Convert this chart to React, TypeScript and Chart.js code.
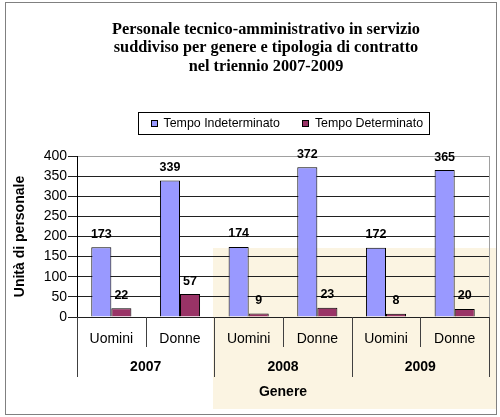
import { useEffect, useRef } from 'react';
import { Chart, registerables } from 'chart.js';

Chart.register(...registerables);

const titleLines = [
  'Personale tecnico-amministrativo in servizio',
  'suddiviso per genere e tipologia di contratto',
  'nel triennio 2007-2009',
];
const genderLabels = ['Uomini', 'Donne', 'Uomini', 'Donne', 'Uomini', 'Donne'];
const yearLabels = ['2007', '2008', '2009'];
const seriesNames = ['Tempo Indeterminato', 'Tempo Determinato'];
const seriesColors = ['#9999FF', '#993366'];
const indeterminato = [173, 339, 174, 372, 172, 365];
const determinato = [22, 57, 9, 23, 8, 20];
const yMin = 0;
const yMax = 400;
const yStep = 50;
const xAxisTitle = 'Genere';
const yAxisTitle = 'Unità di personale';

const SANS = '"Liberation Sans", Arial, sans-serif';
const SERIF = '"Liberation Serif", "Times New Roman", serif';

export default function App() {
  const ref = useRef<HTMLCanvasElement>(null);

  useEffect(() => {
    document.body.style.margin = '0';
    const canvas = ref.current;
    if (!canvas) return;

    const decor = {
      id: 'decor',
      beforeDraw(chart: any) {
        const ctx = chart.ctx;
        ctx.save();
        ctx.fillStyle = '#ffffff';
        ctx.fillRect(0, 0, chart.width, chart.height);
        ctx.fillStyle = '#FBF4E2';
        ctx.fillRect(213, 248, 284, 161);
        ctx.restore();
      },
      afterDraw(chart: any) {
        const ctx = chart.ctx;
        const area = chart.chartArea;
        const xs = chart.scales.x;
        ctx.save();

        // Title
        ctx.fillStyle = '#000';
        ctx.font = `bold 16.3px ${SERIF}`;
        ctx.textAlign = 'center';
        ctx.textBaseline = 'alphabetic';
        const baselines = [33.5, 52, 70.5];
        titleLines.forEach((t, i) => ctx.fillText(t, 266, baselines[i]));

        // Legend
        ctx.font = `12.4px ${SANS}`;
        const widths = seriesNames.map((n) => 7 + 6 + ctx.measureText(n).width);
        const gap = 22;
        const padL = 12;
        const padR = 6;
        const boxW = padL + widths.reduce((a, b) => a + b, 0) + gap + padR;
        const boxL = Math.round(283 - boxW / 2) + 0.5;
        const boxT = 112.5;
        const boxH = 22;
        ctx.strokeStyle = '#000';
        ctx.lineWidth = 1;
        ctx.strokeRect(boxL, boxT, Math.round(boxW), boxH);
        let cx = boxL + padL;
        const cy = boxT + boxH / 2;
        ctx.textAlign = 'left';
        ctx.textBaseline = 'middle';
        seriesNames.forEach((n, i) => {
          ctx.fillStyle = seriesColors[i];
          ctx.fillRect(Math.round(cx), Math.round(cy - 3.5), 7, 7);
          ctx.strokeStyle = '#000';
          ctx.strokeRect(Math.round(cx) + 0.5, Math.round(cy - 3.5) + 0.5, 6, 6);
          ctx.fillStyle = '#000';
          ctx.fillText(n, cx + 13, cy + 0.5);
          cx += widths[i] + gap;
        });

        // Right plot border
        ctx.strokeStyle = '#a0a0a0';
        ctx.beginPath();
        ctx.moveTo(Math.round(area.right) + 0.5, area.top);
        ctx.lineTo(Math.round(area.right) + 0.5, area.bottom);
        ctx.stroke();

        // Data labels
        ctx.fillStyle = '#000';
        ctx.font = `bold 12.5px ${SANS}`;
        ctx.textAlign = 'center';
        ctx.textBaseline = 'alphabetic';
        chart.data.datasets.forEach((ds: any, di: number) => {
          const meta = chart.getDatasetMeta(di);
          meta.data.forEach((bar: any, i: number) => {
            ctx.fillText(String(ds.data[i]), bar.x, bar.y - 9.5);
          });
        });

        // Category axis (two levels)
        const n = genderLabels.length;
        const catW = (xs.right - xs.left) / n;
        const axisY = area.bottom;
        ctx.strokeStyle = '#404040';
        for (let k = 0; k <= n; k++) {
          const x = Math.round(xs.left + k * catW) + 0.5;
          const long = k % 2 === 0;
          ctx.beginPath();
          ctx.moveTo(x, axisY);
          ctx.lineTo(x, long ? axisY + 60 : axisY + 30);
          ctx.stroke();
        }
        ctx.fillStyle = '#000';
        ctx.font = `14px ${SANS}`;
        ctx.textBaseline = 'middle';
        genderLabels.forEach((g, i) => {
          ctx.fillText(g, xs.getPixelForValue(i), axisY + 22.5);
        });
        ctx.font = `bold 14px ${SANS}`;
        yearLabels.forEach((y, j) => {
          const xm = (xs.getPixelForValue(2 * j) + xs.getPixelForValue(2 * j + 1)) / 2;
          ctx.fillText(y, xm, axisY + 50.5);
        });
        ctx.fillText(xAxisTitle, (xs.left + xs.right) / 2, axisY + 75.5);

        // Outer border
        ctx.strokeStyle = '#808080';
        ctx.strokeRect(5.5, 2.5, 491, 412);
        ctx.restore();
      },
    };

    const chart = new Chart(canvas, {
      type: 'bar',
      data: {
        labels: genderLabels,
        datasets: [
          {
            label: seriesNames[0],
            data: indeterminato,
            backgroundColor: seriesColors[0],
            borderColor: '#000',
            borderWidth: 1,
            categoryPercentage: 0.584,
            barPercentage: 1,
          },
          {
            label: seriesNames[1],
            data: determinato,
            backgroundColor: seriesColors[1],
            borderColor: '#000',
            borderWidth: 1,
            categoryPercentage: 0.584,
            barPercentage: 1,
          },
        ],
      },
      options: {
        responsive: false,
        animation: false,
        layout: { padding: { left: 12, top: 156, right: 11, bottom: 100 } },
        plugins: {
          legend: { display: false },
          title: { display: false },
          tooltip: { enabled: false },
        },
        scales: {
          x: {
            display: false,
          },
          y: {
            min: yMin,
            max: yMax,
            ticks: {
              stepSize: yStep,
              color: '#000',
              font: { family: SANS, size: 14 },
              padding: 1,
            },
            grid: {
              color: (c: any) => (c.tick && c.tick.value === yMax ? '#a0a0a0' : '#202020'),
              tickColor: '#202020',
              tickLength: 9,
              lineWidth: 1,
            },
            border: { display: true, color: '#000' },
            title: {
              display: true,
              text: yAxisTitle,
              color: '#000',
              font: { family: SANS, size: 14, weight: 'bold' },
              padding: { top: 0, bottom: 0 },
            },
            afterFit: (s: any) => {
              s.width = 65;
            },
          },
        },
      },
      plugins: [decor],
    });

    return () => chart.destroy();
  }, []);

  return (
    <div style={{ position: 'absolute', left: 0, top: 0, width: 500, height: 417 }}>
      <canvas ref={ref} width={500} height={417} />
    </div>
  );
}
